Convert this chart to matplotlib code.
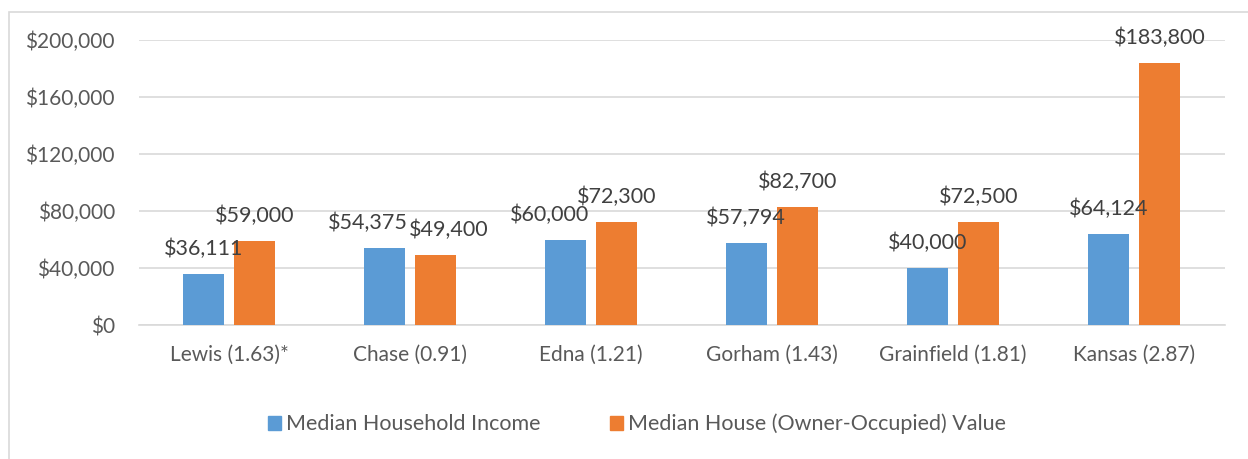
import matplotlib
matplotlib.use("Agg")
import matplotlib.pyplot as plt
from matplotlib.patches import Rectangle, Patch
from matplotlib.ticker import FuncFormatter
import numpy as np

categories = ["Lewis (1.63)*", "Chase (0.91)", "Edna (1.21)", "Gorham (1.43)", "Grainfield (1.81)", "Kansas (2.87)"]
income = [36111, 54375, 60000, 57794, 40000, 64124]
house_value = [59000, 49400, 72300, 82700, 72500, 183800]
series_names = ["Median Household Income", "Median House (Owner-Occupied) Value"]
yticks = [0, 40000, 80000, 120000, 160000, 200000]

# horizontal nudges (pixels) of data labels, as placed in the original
income_nudge = [0, -16, -16, 0, 0, 0]
house_nudge = [0, 13, 0, 0, 0, 0]

plt.rcParams['font.family'] = ['Lato', 'DejaVu Sans']
W, H = 1248, 459
PX = 72 / 100  # points per pixel
fig = plt.figure(figsize=(W/100, H/100), dpi=100)
fig.patches.append(Rectangle((9/W, -0.1), 1.2, 1.1 - 12/H, transform=fig.transFigure,
                             fill=False, edgecolor='#D9D9D9', linewidth=1.2))

ax = fig.add_axes([138.5/W, 1 - 325/H, (1224.5-138.5)/W, (325-40)/H])
x = np.arange(len(categories))
bw = 0.225
off = 0.142
blue, orange = '#5B9BD5', '#ED7D31'
b1 = ax.bar(x - off, income, bw, color=blue, zorder=3)
b2 = ax.bar(x + off, house_value, bw, color=orange, zorder=3)
for bars, vals, nudges in ((b1, income, income_nudge), (b2, house_value, house_nudge)):
    for rect, v, n in zip(bars, vals, nudges):
        ax.annotate(f"${v:,.0f}", (rect.get_x() + rect.get_width()/2, v),
                    xytext=(n * PX, 25 * PX), textcoords='offset points',
                    ha='center', va='center', fontsize=15.5, color='#404040', zorder=4)

ax.set_xlim(-0.5, len(categories) - 0.5)
ax.set_ylim(0, 200000)
ax.set_yticks(yticks)
ax.yaxis.set_major_formatter(FuncFormatter(lambda v, p: f"${v:,.0f}"))
ax.set_xticks(x)
ax.set_xticklabels(categories)
ax.tick_params(axis='both', length=0, labelsize=15, colors='#595959')
ax.tick_params(axis='x', pad=14)
ax.tick_params(axis='y', pad=17)
ax.grid(axis='y', color='#D9D9D9', linewidth=1.2, zorder=0)
for s in ['top', 'right', 'left']:
    ax.spines[s].set_visible(False)
ax.spines['bottom'].set_color('#D9D9D9')
ax.spines['bottom'].set_linewidth(1.2)

handles = [Patch(color=blue), Patch(color=orange)]
fig.legend(handles, series_names, loc='center', bbox_to_anchor=(637/W, 1 - 424/H),
           ncol=2, frameon=False, fontsize=15.5, labelcolor='#595959',
           handlelength=0.6, handleheight=0.6, handletextpad=0.25, columnspacing=3.2)

fig.savefig("out.png", dpi=100)
